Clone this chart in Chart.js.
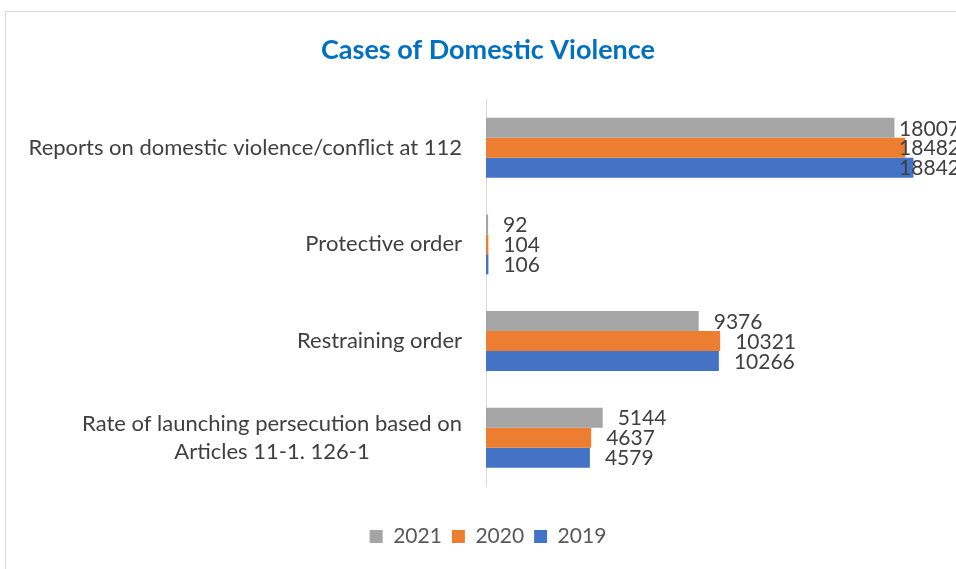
<!DOCTYPE html>
<html>
<head>
<meta charset="utf-8">
<script src="https://cdn.jsdelivr.net/npm/chart.js@4.4.1/dist/chart.umd.min.js"></script>
<style>
  html, body { margin: 0; padding: 0; background: #fff; overflow: hidden; width: 956px; height: 569px; }
  #frame { position: absolute; left: 5px; top: 11px; width: 1100px; height: 700px;
           border-left: 1px solid #d9d9d9; border-top: 1px solid #d9d9d9; }
  #c { position: absolute; left: 0; top: 0; }
</style>
</head>
<body>
<div id="frame"></div>
<canvas id="c" width="976" height="569"></canvas>
<script>
// Categories (top to bottom) and yearly case counts
const categories = [
  ["Reports on domestic violence/conflict at 112"],
  ["Protective order"],
  ["Restraining order"],
  ["Rate of launching persecution based on", "Articles 11-1. 126-1"]
];
const years = ["2021", "2020", "2019"];
const cases2021 = [18007, 92, 9376, 5144];
const cases2020 = [18482, 104, 10321, 4637];
const cases2019 = [18842, 106, 10266, 4579];

const FONT = "Lato, 'Open Sans', sans-serif";
const TEXT = "#404040";
const colors = ["#A5A5A5", "#ED7D31", "#4472C4"];
const series = [cases2021, cases2020, cases2019];

// Category labels: each block right-aligned against the axis, lines centred within the block
const categoryLabels = {
  id: "categoryLabels",
  afterDraw(chart) {
    const ctx = chart.ctx;
    const y = chart.scales.y;
    const right = chart.chartArea.left - 24;
    const lh = 28;
    ctx.save();
    ctx.font = "22px " + FONT;
    ctx.fillStyle = TEXT;
    ctx.textAlign = "center";
    ctx.textBaseline = "middle";
    categories.forEach((lines, i) => {
      const cy = y.getPixelForTick(i);
      const w = Math.max(...lines.map(l => ctx.measureText(l).width));
      const cx = right - w / 2;
      const top = cy - (lines.length - 1) * lh / 2;
      lines.forEach((l, k) => ctx.fillText(l, cx, top + k * lh));
    });
    ctx.restore();
  }
};

// Value labels just past the end of each bar, kept inside the canvas
const valueLabels = {
  id: "valueLabels",
  afterDatasetsDraw(chart) {
    const ctx = chart.ctx;
    ctx.save();
    ctx.font = "21px " + FONT;
    ctx.fillStyle = TEXT;
    ctx.textAlign = "left";
    ctx.textBaseline = "middle";
    chart.data.datasets.forEach((ds, di) => {
      chart.getDatasetMeta(di).data.forEach((bar, i) => {
        const txt = String(ds.data[i]);
        const w = ctx.measureText(txt).width;
        const x = Math.min(bar.x + 15, chart.width - w - 16);
        ctx.fillText(txt, x, bar.y + 1);
      });
    });
    ctx.restore();
  }
};

new Chart(document.getElementById("c"), {
  type: "bar",
  data: {
    labels: categories,
    datasets: years.map((yr, i) => ({
      label: yr,
      data: series[i],
      backgroundColor: colors[i],
      borderWidth: 0,
      barPercentage: 1.0,
      categoryPercentage: 0.62
    }))
  },
  options: {
    indexAxis: "y",
    responsive: false,
    animation: false,
    layout: { padding: { left: 0, right: 0, top: 0, bottom: 12 } },
    scales: {
      x: {
        min: 0,
        max: 21600,
        display: true,
        grid: { display: false },
        border: { display: false },
        ticks: { display: false },
        afterFit: s => { s.height = 30; }
      },
      y: {
        grid: { display: false },
        border: { display: true, color: "#d9d9d9", width: 1 },
        ticks: { display: false },
        afterFit: s => { s.width = 486; }
      }
    },
    plugins: {
      title: {
        display: true,
        text: "Cases of Domestic Violence",
        color: "#0070C0",
        font: { family: FONT, size: 27, weight: "bold" },
        padding: { top: 34, bottom: 33 }
      },
      legend: {
        position: "bottom",
        labels: {
          color: "#595959",
          font: { family: FONT, size: 21 },
          boxWidth: 13,
          boxHeight: 13,
          padding: 10
        }
      },
      tooltip: { enabled: false }
    }
  },
  plugins: [categoryLabels, valueLabels]
});
</script>
</body>
</html>
